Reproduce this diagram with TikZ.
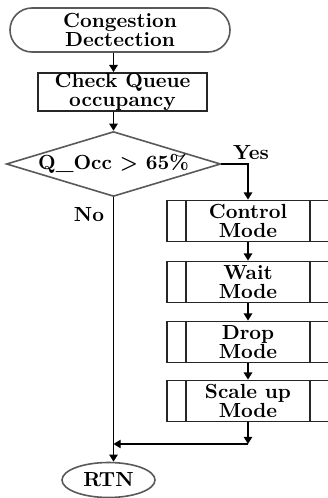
\documentclass[tikz,border=0pt]{standalone}
\usepackage{amsmath, textcomp}
\usepackage{amssymb}
\usepackage{color}
\usepackage{pgf,tikz}
\usetikzlibrary{shapes, calc, arrows.meta, math}
\newcommand\flowfont{\bfseries\fontsize{10.2}{9.5}\selectfont}

\begin{document}
\begin{tikzpicture}[x=0.5pt, y=-0.5pt, >={Triangle[length=3.6pt,width=4.2pt]}, line width=0.9pt,
  every node/.style={font=\flowfont, align=center},
  term/.style={draw=black!65, line width=0.8pt},
  procbox/.style={draw=black!85, line width=0.9pt, rectangle, inner sep=0pt},
  modebox/.style={procbox, minimum width=81pt, minimum height=20.5pt}]

\tikzmath{
			\xm = 113.5; \xs = 248;
			\ysc = 401; \yjn = 444;
          }

\useasboundingbox (0,0) rectangle (327,498);

\node[term, rounded rectangle, minimum width=110pt, minimum height=22pt, inner sep=0pt] (start) at (120,30) {Congestion\\Dectection};
\node[procbox, minimum width=84.5pt, minimum height=19pt] (chk) at (122.5,92) {Check Queue\\occupancy};
\node[term, diamond, aspect=3.3, minimum width=103.5pt, minimum height=31pt, inner sep=0pt] (dec) at (\xm,164) {Q\_Occ > 65\%};

\foreach \n/\y/\t in {ctl/221/Control, wt/282/Wait, drp/342/Drop, scl/\ysc/Scale up}
{
  \node[modebox] (\n) at (\xs,\y) {\t\\Mode};
  \draw[black!85, line width=0.9pt] ([xshift=10pt]\n.north west) -- ([xshift=10pt]\n.south west);
  \draw[black!85, line width=0.9pt] ([xshift=-10pt]\n.north east) -- ([xshift=-10pt]\n.south east);
}

\node[term, ellipse, minimum width=46.5pt, minimum height=17.5pt, inner sep=0pt] (rtn) at (108.5,480) {RTN};

\node (yes) at (251,153) {Yes};
\node (no) at (89,215) {No};
\coordinate (jn) at (\xs,\yjn);

\draw[->] (start.south -| dec) -- (chk.north -| dec);
\draw[->] (chk.south -| dec) -- (dec.north);
\draw[->] (dec.east) -| (ctl.north);
\foreach \a/\b in {ctl/wt, wt/drp, drp/scl}
  \draw[->] (\a) -- (\b);
\draw[->] (scl) -- (jn);
\draw[->, line width=0.6pt] (jn) -- (jn -| dec);
\draw[->] (dec.south) -- (dec.south |- rtn.north);

\end{tikzpicture}
\end{document}
